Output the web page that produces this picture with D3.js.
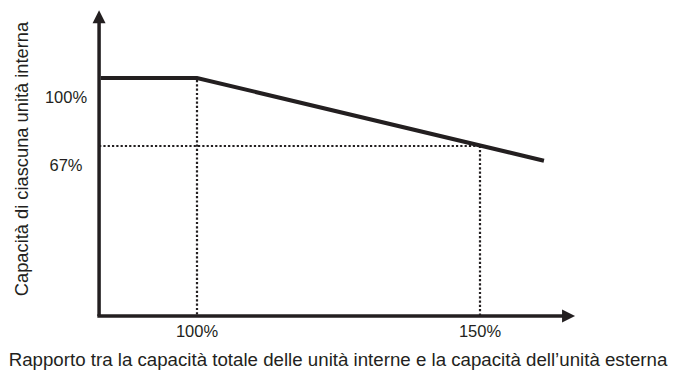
<!DOCTYPE html>
<html>
<head>
<meta charset="utf-8">
<script src="https://cdn.jsdelivr.net/npm/d3@7"></script>
<style>
  body { margin: 0; background: #fff; }
  text { font-family: "Liberation Sans", Arial, sans-serif; fill: #231f20; }
</style>
</head>
<body>
<script>
// rapporto capacità (x, %) e capacità unità interna (y, %)
var rapporto = [83, 100, 161.3];
var capacita = [100, 100, 59.7];

// tacche
var tickX = [100, 150];
var tickY = [100, 67];
var etichetteX = ["100%", "150%"];
var etichetteY = ["100%", "67%"];

var titoloX = "Rapporto tra la capacità totale delle unità interne e la capacità dell\u2019unità esterna";
var titoloY = "Capacità di ciascuna unità interna";

var larghezza = 677, altezza = 374;
var colore = "#231f20";

var svg = d3.select("body").append("svg")
  .attr("width", larghezza)
  .attr("height", altezza);

// scale
var x = d3.scaleLinear().domain([100, 150]).range([197, 480]);
var y = d3.scaleLinear().domain([-16, 100]).range([316, 78]);

var x0 = x(82.7), y0 = y(-16);
var xFine = x(166.8), yFine = y(133);

// linee tratteggiate di riferimento
var guide = [
  {x1: x(tickX[0]), y1: y(tickY[0]) + 2, x2: x(tickX[0]), y2: y0},
  {x1: x(tickX[1]), y1: y(tickY[1]), x2: x(tickX[1]), y2: y0},
  {x1: x0, y1: Math.round(y(tickY[1])), x2: x(tickX[1]), y2: Math.round(y(tickY[1]))}
];
svg.selectAll("line.guida")
  .data(guide)
  .enter()
  .append("line")
  .attr("class", "guida")
  .attr("x1", function(d) { return d.x1; })
  .attr("y1", function(d) { return d.y1; })
  .attr("x2", function(d) { return d.x2; })
  .attr("y2", function(d) { return d.y2; })
  .attr("stroke", colore)
  .attr("stroke-width", 2.2)
  .attr("stroke-dasharray", "2.2,2.1");

// assi
svg.append("line")
  .attr("x1", x0).attr("y1", y0)
  .attr("x2", x0).attr("y2", yFine + 12)
  .attr("stroke", colore).attr("stroke-width", 3.5);
svg.append("line")
  .attr("x1", x0 - 1.75).attr("y1", y0)
  .attr("x2", xFine - 12).attr("y2", y0)
  .attr("stroke", colore).attr("stroke-width", 3.5);

// frecce
svg.append("path")
  .attr("d", "M" + x0 + "," + yFine + " L" + (x0 + 6.5) + "," + (yFine + 13) + " L" + (x0 - 6.5) + "," + (yFine + 13) + " Z")
  .attr("fill", colore);
svg.append("path")
  .attr("d", "M" + xFine + "," + y0 + " L" + (xFine - 13) + "," + (y0 - 6.5) + " L" + (xFine - 13) + "," + (y0 + 6.5) + " Z")
  .attr("fill", colore);

// curva
var linea = d3.line()
  .x(function(d, i) { return x(rapporto[i]); })
  .y(function(d, i) { return y(capacita[i]); });
svg.append("path")
  .attr("d", linea(rapporto))
  .attr("fill", "none")
  .attr("stroke", colore)
  .attr("stroke-width", 4);

// etichette
svg.selectAll("text.tx")
  .data(tickX)
  .enter()
  .append("text")
  .attr("class", "tx")
  .attr("x", function(d) { return x(d); })
  .attr("y", y0 + 21)
  .attr("text-anchor", "middle")
  .attr("font-size", "16.5px")
  .text(function(d, i) { return etichetteX[i]; });

svg.selectAll("text.ty")
  .data(tickY)
  .enter()
  .append("text")
  .attr("class", "ty")
  .attr("x", 66)
  .attr("y", function(d) { return y(d) + 25; })
  .attr("text-anchor", "middle")
  .attr("font-size", "16.5px")
  .text(function(d, i) { return etichetteY[i]; });

svg.append("text")
  .attr("x", 338)
  .attr("y", 366)
  .attr("text-anchor", "middle")
  .attr("font-size", "18.7px")
  .text(titoloX);

svg.append("text")
  .attr("transform", "translate(28,159) rotate(-90)")
  .attr("text-anchor", "middle")
  .attr("font-size", "18.3px")
  .text(titoloY);
</script>
</body>
</html>
